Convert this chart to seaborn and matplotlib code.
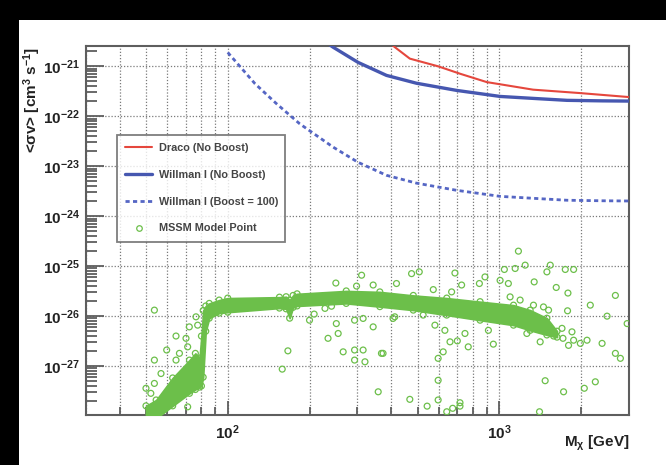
import numpy as np
import pandas as pd
import matplotlib
matplotlib.use("Agg")
import matplotlib.pyplot as plt
import seaborn as sns
from matplotlib.patches import Rectangle
from matplotlib.lines import Line2D
from matplotlib.ticker import LogLocator, LogFormatterSciNotation, NullFormatter

# ---------------- data ----------------
draco_mass = [370, 412, 468, 596, 718, 898, 1330, 1982, 3000]
draco_sv = [3.9e-21, 2.43e-21, 1.43e-21, 1.0e-21, 7.1e-22, 4.85e-22, 3.42e-22, 2.92e-22, 2.43e-22]

willman_mass = [100, 126, 151, 184, 244, 302, 384, 495, 697, 1007, 1400, 1775, 2400, 3000]
willman_sv = [1.9e-19, 4.5e-20, 1.8e-20, 7.1e-21, 2.43e-21, 1.2e-21, 6.6e-22, 4.6e-22,
              3.3e-22, 2.5e-22, 2.25e-22, 2.09e-22, 2.04e-22, 2.02e-22]
boost = 100

# dense band of MSSM model points (envelope)
band_mass = [50, 54.5, 62.7, 72.3, 76, 78.7, 80, 81.2, 83, 85.5, 93, 100, 155, 164, 169,
             174, 180, 273, 363, 482, 640, 849, 1127, 1298, 1496, 1630]
band_upper = [1.6e-28, 2.1e-28, 5.8e-28, 1.32e-27, 1.8e-27, 1.45e-27, 4.0e-27, 1.3e-26, 1.6e-26,
              1.8e-26, 2.1e-26, 2.3e-26, 2.4e-26, 2.45e-26, 2.1e-26, 2.6e-26, 2.8e-26, 3.2e-26,
              3.06e-26, 2.6e-26, 2.3e-26, 1.95e-26, 1.66e-26, 1.32e-26, 9.1e-27, 5.0e-27]
band_lower = [9.0e-29, 9.0e-29, 1.6e-28, 2.85e-28, 3.4e-28, 3.8e-28, 4.0e-28, 6.0e-28, 5.0e-27,
              9.1e-27, 1.15e-26, 1.2e-26, 1.45e-26, 1.4e-26, 9.1e-27, 1.5e-26, 1.6e-26, 1.8e-26,
              1.55e-26, 1.32e-26, 1.05e-26, 8.3e-27, 6.6e-27, 5.2e-27, 4.2e-27, 3.8e-27]

# scattered MSSM model points
mssm_mass = [53.7, 64.5, 59.6, 53.7, 76.4, 77.5, 72.2, 70.2, 71.2, 66.4, 64.5, 56.8, 50.0, 53.7,
             52.1, 71.2, 166.5, 158.7, 200, 208, 234, 250, 255, 251, 266, 293, 315, 293, 320,
             311, 298, 343, 343, 368, 358, 293, 315, 412, 418, 228, 241,
             1175, 1244, 1539, 1748, 1876, 1496, 475, 507, 686, 1043, 1143, 1343, 1619, 1788,
             2673, 2161, 1782, 2491, 2953, 1517, 1453, 1700, 1850, 1876, 1797, 1986, 2102, 2388,
             1413, 1583, 1714, 1262, 950, 768, 658, 700, 621, 595, 579, 630, 747, 911, 2673,
             2789, 373, 571, 667, 726, 844, 885, 1006, 1079, 1095, 1192, 1335, 524, 406,
             468, 542, 595, 640, 673, 716, 716, 1405, 1723, 2054, 2255, 1474, 595]
mssm_sv = [1.32e-26, 4.0e-27, 2.1e-27, 1.32e-27, 9.7e-27, 6.6e-27, 6.1e-27, 3.6e-27, 2.43e-27,
           1.8e-27, 1.32e-27, 7.1e-28, 3.6e-28, 4.5e-28, 2.85e-28, 1.53e-28, 2.02e-27, 8.7e-28,
           8.3e-27, 1.1e-26, 3.6e-27, 4.6e-26, 4.5e-27, 7.1e-27, 1.93e-27, 2.1e-27, 2.1e-27,
           1.32e-27, 1.22e-27, 6.6e-26, 4.0e-26, 4.2e-26, 6.1e-27, 1.8e-27, 3.06e-28, 8.3e-27,
           9.0e-27, 9.7e-27, 4.5e-26, 1.43e-26, 1.58e-26,
           2.0e-25, 1.05e-25, 1.05e-25, 8.6e-26, 8.6e-26, 7.7e-26, 7.1e-26, 7.7e-26, 7.3e-26,
           8.6e-26, 9.0e-26, 4.85e-26, 3.75e-26, 2.9e-26, 2.6e-26, 1.66e-26, 1.28e-26, 1.0e-26,
           7.1e-27, 1.32e-26, 1.53e-26, 5.7e-27, 4.85e-27, 3.3e-27, 2.6e-27, 2.85e-27, 3.3e-27,
           2.85e-27, 3.06e-27, 4.0e-27, 3.6e-27, 4.5e-27, 2.75e-27, 2.43e-27, 3.06e-27, 3.2e-27,
           1.93e-27, 1.43e-27, 6.6e-27, 5.2e-27, 4.5e-27, 5.2e-27, 1.8e-27, 1.43e-27, 1.8e-27,
           3.4e-26, 3.06e-26, 4.2e-26, 4.5e-26, 6.1e-26, 5.2e-26, 4.5e-26, 2.43e-26, 2.1e-26,
           1.66e-26, 1.05e-26, 9.0e-27, 2.16e-28, 1.58e-28, 2.1e-28, 1.22e-28, 1.43e-28,
           1.85e-28, 1.58e-28, 1.22e-28, 3.06e-28, 3.6e-28, 4.85e-28, 5.1e-28, 5.2e-28]

labels = ["Draco (No Boost)", "Willman I (No Boost)", "Willman I (Boost = 100)", "MSSM Model Point"]
x_ticks = [100, 1000]
y_ticks = [1e-27, 1e-26, 1e-25, 1e-24, 1e-23, 1e-22, 1e-21]

# ---------------- style ----------------
sns.set_style("ticks")
plt.rcParams["font.family"] = ["Liberation Sans", "DejaVu Sans"]
plt.rcParams["mathtext.fontset"] = "custom"
plt.rcParams["mathtext.rm"] = "Liberation Sans:bold"
plt.rcParams["mathtext.it"] = "Liberation Sans:bold:italic"
plt.rcParams["mathtext.bf"] = "Liberation Sans:bold"
plt.rcParams["mathtext.default"] = "rm"

RED = "#e5473d"
BLUE = "#4657b0"
BLUE_D = "#5566c4"
GREEN = "#6cbf4a"
GRID = "#7a7a7a"
AX = "#5e5e5e"

fig = plt.figure(figsize=(6.66, 4.65), dpi=100)
fig.patch.set_facecolor("black")
fig.patches.append(Rectangle((19 / 666, 0), 1 - 19 / 666, 1 - 20 / 465,
                             transform=fig.transFigure, facecolor="white",
                             edgecolor="none", zorder=-10))

ax = fig.add_axes([85.7 / 666, 50 / 465, 543.3 / 666, 368.5 / 465])
ax.set_zorder(1)
ax.set_facecolor("white")
ax.set_xscale("log")
ax.set_yscale("log")

# MSSM dense band
ax.fill_between(band_mass, band_lower, band_upper, color=GREEN, lw=1.2,
                edgecolor=GREEN, zorder=3)
band_df = pd.DataFrame({"m": band_mass * 2, "sv": band_upper + band_lower})
sns.scatterplot(data=band_df, x="m", y="sv", ax=ax, marker="o", s=18,
                facecolors="none", edgecolor=GREEN, linewidth=0.9, zorder=3, legend=False)

mssm_df = pd.DataFrame({"m": mssm_mass, "sv": mssm_sv})
sns.scatterplot(data=mssm_df, x="m", y="sv", ax=ax, marker="o", s=18,
                facecolors="none", edgecolor=GREEN, linewidth=0.9, zorder=3, legend=False)

# limits
draco_df = pd.DataFrame({"m": draco_mass, "sv": draco_sv})
will_df = pd.DataFrame({"m": willman_mass, "sv": willman_sv})
will_df["sv_boost"] = will_df["sv"] / boost

sns.lineplot(data=draco_df, x="m", y="sv", ax=ax, color=RED, lw=1.5, zorder=4)
sns.lineplot(data=will_df, x="m", y="sv", ax=ax, color=BLUE, lw=2.4, zorder=4)
sns.lineplot(data=will_df, x="m", y="sv_boost", ax=ax, color=BLUE_D, lw=2.0, zorder=4)
ax.lines[-1].set_dashes([1.5, 1.2])

ax.set_xlim(30, 3000)
ax.set_ylim(1.05e-28, 2.5e-21)

# ticks
ax.set_xticks(x_ticks)
ax.set_yticks(y_ticks)
ax.xaxis.set_minor_locator(LogLocator(base=10, subs=np.arange(2, 10), numticks=20))
ax.yaxis.set_minor_locator(LogLocator(base=10, subs=np.arange(2, 10), numticks=40))
ax.xaxis.set_major_formatter(LogFormatterSciNotation())
ax.yaxis.set_major_formatter(LogFormatterSciNotation())
ax.xaxis.set_minor_formatter(NullFormatter())
ax.yaxis.set_minor_formatter(NullFormatter())

ax.tick_params(axis="both", which="both", direction="in", color=AX, width=1.3,
               labelcolor="#222222", labelsize=11)
ax.tick_params(axis="y", which="major", length=13, pad=4)
ax.tick_params(axis="y", which="minor", length=8)
ax.tick_params(axis="x", which="major", length=10, pad=6)
ax.tick_params(axis="x", which="minor", length=6)
for lab in ax.get_xticklabels() + ax.get_yticklabels():
    lab.set_fontweight("bold")

ax.grid(which="major", axis="both", color=GRID, lw=0.9, ls=(0, (1, 1.5)), zorder=1)
ax.grid(which="minor", axis="x", color=GRID, lw=0.9, ls=(0, (1, 1.5)), zorder=1)
ax.set_axisbelow(True)

for s in ax.spines.values():
    s.set_color(AX)
    s.set_linewidth(1.5)

ax.set_xlabel("M$_{χ}$ [GeV]", loc="right", fontsize=11, fontweight="bold",
              color="#222222")
ax.xaxis.set_label_coords(1.0, -0.077)
ax.xaxis.label.set_va("center")
ax.set_ylabel("<σv> [cm$^{3}$ s$^{-1}$]", loc="top", fontsize=11, fontweight="bold",
              color="#222222")
ax.yaxis.set_label_coords(-0.079, 1.0)

# legend
handles = [
    Line2D([], [], color=RED, lw=1.5),
    Line2D([], [], color=BLUE, lw=2.4),
    Line2D([], [], color=BLUE_D, lw=2.0, dashes=[1.5, 1.2]),
    Line2D([], [], color=GREEN, lw=0, marker="o", ms=4, mfc="none", mew=0.9),
]
leg = ax.legend(handles, labels, loc="upper left",
                bbox_to_anchor=(0.0576, 0.46, 0.309, 0.30), mode="expand",
                prop={"weight": "bold", "size": 7.8}, frameon=True, fancybox=False,
                edgecolor=AX, borderpad=0.75, labelspacing=1.55, handlelength=2.5,
                handletextpad=0.65, borderaxespad=0)
leg.get_frame().set_linewidth(1.3)
for t in leg.get_texts():
    t.set_color("#444444")
leg.set_zorder(6)

fig.savefig("out.png", dpi=100, facecolor=fig.get_facecolor())
